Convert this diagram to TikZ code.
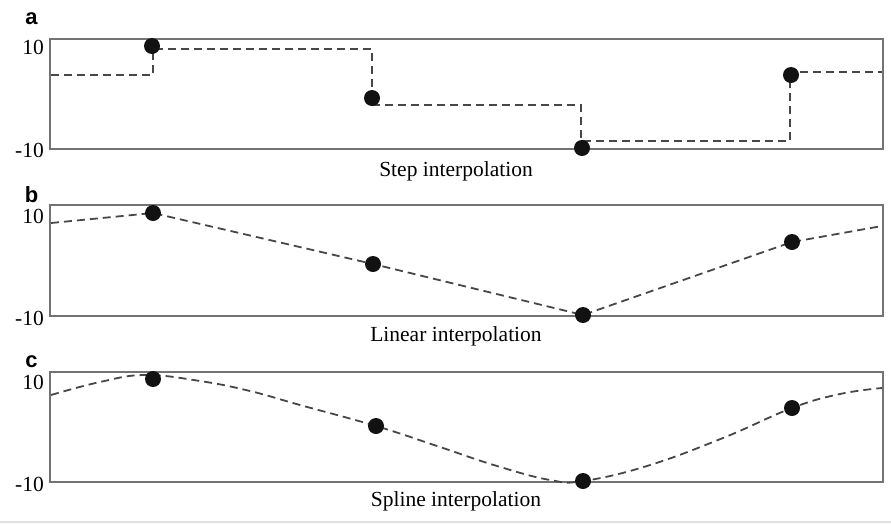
\documentclass[tikz,border=0pt]{standalone}
\usepackage{fontspec}
\setmainfont{Liberation Serif}
\newfontfamily\panelfont{Liberation Sans}
\begin{document}
\begin{tikzpicture}[x=1pt,y=-1pt,
  frame/.style={draw=black!55,line width=1.8pt},
  curve/.style={draw=black!72,line width=1.8pt,dash pattern=on 8pt off 5pt},
  dot/.style={circle,fill=black!93,minimum size=16pt,inner sep=0pt},
  tick/.style={anchor=east,inner sep=0pt,font=\fontsize{21.5}{24}\selectfont},
  caption/.style={anchor=base,inner sep=0pt,font=\fontsize{21.5}{24}\selectfont},
  panel/.style={inner sep=0pt,font=\panelfont\bfseries\fontsize{22}{24}\selectfont}]
\useasboundingbox (0,0) rectangle (891,523);
\fill[black!12] (0,521) rectangle (891,523);
% panel a
\node[panel] (la) at (31.5,19) {a};
\draw[frame] (50,39) rectangle (883,149);
\node[tick] (a10) at (44,47) {10};
\node[tick] (am10) at (44,150) {-10};
\draw[curve] (51,75) -- (153,75) -- (153,49) -- (372,49) -- (372,105) -- (581,105) -- (581,141) -- (790,141) -- (790,72) -- (882,72);
\node[dot] (a1) at (152,46) {};
\node[dot] (a2) at (372,98) {};
\node[dot] (a3) at (582,148) {};
\node[dot] (a4) at (791,75) {};
\node[caption] (ca) at (456,176) {Step interpolation};
% panel b
\node[panel] (lb) at (31.5,195) {b};
\draw[frame] (50,205) rectangle (883,316);
\node[tick] (b10) at (44,216) {10};
\node[tick] (bm10) at (44,318) {-10};
\coordinate (b1) at (153,213);
\coordinate (b2) at (373,264);
\coordinate (b3) at (583,315);
\coordinate (b4) at (792,242);
\coordinate (bl) at (51,223);
\coordinate (br) at (882,226);
\draw[curve] (bl) -- (b1) -- (b2) -- (b3) -- (b4) -- (br);
\foreach \p in {b1,b2,b3,b4}{\node[dot] (d\p) at (\p) {};}
\node[caption] (cb) at (456,341) {Linear interpolation};
% panel c
\node[panel] (lc) at (31.5,362) {c};
\draw[frame] (50,372) rectangle (883,482);
\node[tick] (c10) at (44,382) {10};
\node[tick] (cm10) at (44,484) {-10};
\draw[curve] plot[smooth,tension=0.7] coordinates {(51,395) (100,382) (145,375) (200,381) (250,391) (300,405) (376,426) (440,447) (497,466) (550,480) (583,481) (647,466) (723,438) (792,408) (840,394) (882,388)};
\node[dot] (c1) at (153,379) {};
\node[dot] (c2) at (376,426) {};
\node[dot] (c3) at (583,481) {};
\node[dot] (c4) at (792,408) {};
\node[caption] (cc) at (456,506) {Spline interpolation};
\end{tikzpicture}
\end{document}
